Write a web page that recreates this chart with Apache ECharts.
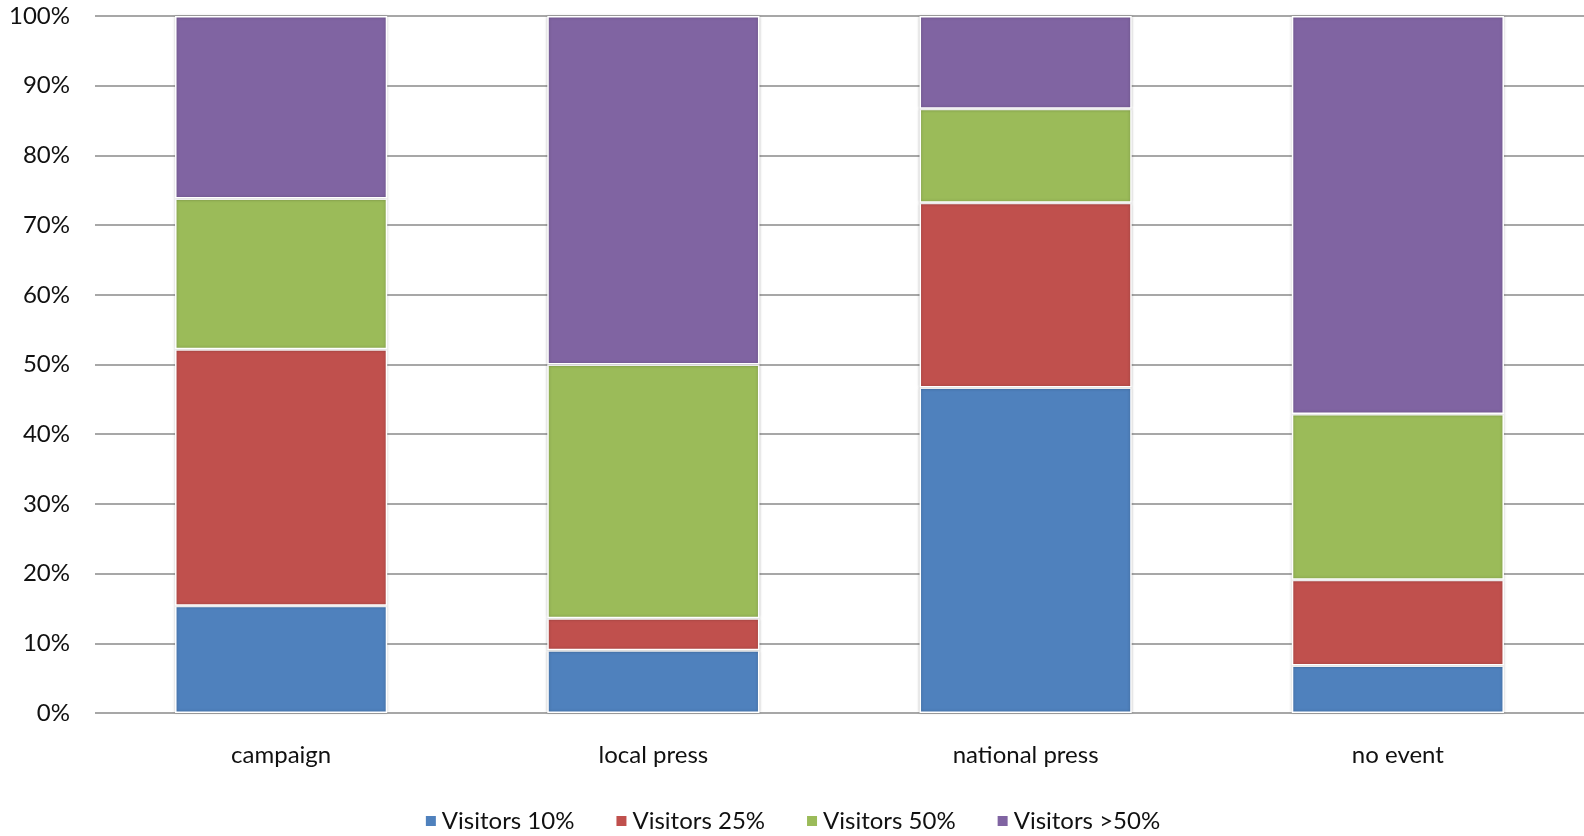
<!DOCTYPE html>
<html><head><meta charset="utf-8">
<script src="https://cdn.jsdelivr.net/npm/echarts@6/dist/echarts.min.js"></script>
<style>html,body{margin:0;padding:0;background:#fff}#c{width:1584px;height:836px}</style>
</head><body><div id="c"></div>
<script>
const categories = ['campaign', 'local press', 'national press', 'no event'];
const visitors10 = [15.4, 9.0, 46.7, 6.8];
const visitors25 = [36.8, 4.6, 26.5, 12.3];
const visitors50 = [21.6, 36.4, 13.5, 23.8];
const visitorsOver50 = [26.2, 50.0, 13.3, 57.1];
const seriesNames = ['Visitors 10%', 'Visitors 25%', 'Visitors 50%', 'Visitors >50%'];
const colors = ['#4F81BD', '#C0504D', '#9BBB59', '#8064A2'];
const values = [visitors10, visitors25, visitors50, visitorsOver50];

const chart = echarts.init(document.getElementById('c'));
const font = 'Lato, "Open Sans", sans-serif';
chart.setOption({
  animation: false,
  color: colors,
  grid: { left: 95, right: 0, top: 16, bottom: 123, containLabel: false },
  legend: {
    bottom: -2, left: 'center', itemWidth: 12, itemHeight: 12, itemGap: 40,
    icon: 'rect',
    textStyle: { fontFamily: font, fontSize: 24, color: '#111' },
    data: seriesNames
  },
  xAxis: {
    type: 'category', data: categories,
    axisLine: { show: false }, axisTick: { show: false },
    axisLabel: { fontFamily: font, fontSize: 24, color: '#111', margin: 30 }
  },
  yAxis: {
    type: 'value', min: 0, max: 100, interval: 10,
    axisLine: { show: false }, axisTick: { show: false },
    axisLabel: { formatter: '{value}%', fontFamily: font, fontSize: 24, color: '#111', margin: 25 },
    splitLine: { lineStyle: { color: '#8a8a8a', width: 1.5 } }
  },
  series: seriesNames.map((n, i) => ({
    name: n, type: 'bar', stack: 'all', data: values[i], barWidth: '57%',
    itemStyle: { borderColor: '#fff', borderWidth: 1.5, shadowColor: 'rgba(0,0,0,0.25)', shadowBlur: 3 }
  }))
});
</script></body></html>
